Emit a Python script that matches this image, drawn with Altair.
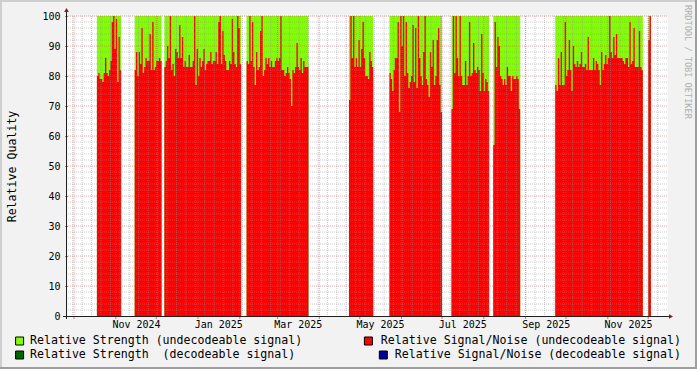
import altair as alt
import pandas as pd

# ---------------- data ----------------
SEGMENT_STARTS = ["2024-10-18", "2024-11-15", "2024-12-07", "2025-02-06", "2025-04-23",
                  "2025-05-23", "2025-07-08", "2025-08-08", "2025-09-23", "2025-12-01"]

SNR_SEG1 = [80, 81, 79, 79, 78, 81, 86, 81, 80, 82, 85, 98, 100, 89, 99, 78, 93, 82]
SNR_SEG2 = [82, 88, 80, 88, 84, 96, 81, 83, 86, 85, 85, 94, 82, 98, 82, 83, 85, 85, 86, 85]
SNR_SEG3 = [83, 85, 90, 86, 100, 82, 84, 80, 89, 88, 86, 97, 86, 93, 83, 85, 83, 83, 87, 83,
            83, 85, 100, 77, 89, 80, 86, 83, 85, 89, 82, 84, 85, 85, 88, 84, 85, 85, 88, 84,
            98, 100, 84, 95, 87, 85, 82, 82, 85, 84, 99, 88, 84, 83, 100, 96, 84]
SNR_SEG4 = [85, 84, 100, 85, 98, 83, 77, 88, 82, 83, 95, 100, 80, 82, 86, 84, 86, 83, 85, 83,
            83, 85, 86, 85, 86, 100, 82, 82, 80, 81, 83, 81, 79, 70, 82, 81, 83, 91, 83, 82,
            86, 81, 85, 83, 83, 83]
SNR_SEG5 = [72, 100, 86, 100, 83, 86, 83, 92, 83, 89, 98, 86, 80, 80, 79, 88, 85, 83]
SNR_SEG6 = [81, 79, 75, 82, 86, 86, 98, 68, 100, 90, 100, 80, 98, 81, 76, 78, 80, 97, 78, 96,
            76, 100, 86, 80, 77, 88, 100, 79, 77, 73, 88, 83, 92, 77, 80, 92, 96, 77, 68]
SNR_SEG7 = [69, 100, 81, 100, 86, 80, 100, 80, 77, 77, 85, 77, 80, 98, 80, 81, 91, 82, 81, 83,
            82, 75, 94, 81, 75, 79, 78, 75]
SNR_SEG8 = [57, 98, 83, 93, 90, 80, 79, 77, 79, 77, 83, 80, 80, 75, 80, 79, 79, 80, 79, 69]
SNR_SEG9 = [77, 75, 86, 77, 88, 77, 77, 98, 80, 82, 92, 82, 75, 90, 84, 83, 85, 83, 84, 88,
            83, 83, 84, 82, 93, 82, 82, 82, 86, 82, 85, 84, 82, 77, 88, 82, 84, 87, 84, 86,
            100, 88, 86, 93, 87, 94, 86, 86, 86, 86, 85, 84, 86, 86, 83, 98, 84, 85, 96, 83,
            83, 83, 95, 83, 82]
SNR_SEG10 = [92, 100]
SNR_SEGMENTS = [SNR_SEG1, SNR_SEG2, SNR_SEG3, SNR_SEG4, SNR_SEG5,
                SNR_SEG6, SNR_SEG7, SNR_SEG8, SNR_SEG9, SNR_SEG10]

STRENGTH_LEVEL = 100  # relative strength sits at 100 on every day with data

X_LABEL_DATES = ["2024-11-16", "2025-01-16", "2025-03-16", "2025-05-16",
                 "2025-07-16", "2025-09-16", "2025-11-16"]
Y_TICKS = [0, 10, 20, 30, 40, 50, 60, 70, 80, 90, 100]
Y_MINOR = [v for v in range(2, 100, 2) if v % 10 != 0]
Y_MAJOR = [10, 20, 30, 40, 50, 60, 70, 80, 90, 100]

LEGEND_LABELS = ["Relative Strength (undecodeable signal)",
                 "Relative Signal/Noise (undecodeable signal)",
                 "Relative Strength\u00a0 (decodeable signal)",
                 "Relative Signal/Noise (decodeable signal)"]
LEGEND_COLORS = ["#80FF00", "#FF0000", "#006600", "#000099"]
WATERMARK = "RRDTOOL / TOBI OETIKER"
Y_TITLE = "Relative Quality"

FONT = "DejaVu Sans Mono"

# ---------------- tables ----------------
def iso(ts):
    return ts.strftime("%Y-%m-%dT%H:%M:%SZ")

rows = []
for k, (start, vals) in enumerate(zip(SEGMENT_STARTS, SNR_SEGMENTS)):
    t0 = pd.Timestamp(start)
    ext = vals + [vals[-1]]  # closing point for the step area
    for i, v in enumerate(ext):
        rows.append({"date": iso(t0 + pd.Timedelta(days=i)), "snr": v,
                     "strength": STRENGTH_LEVEL, "seg": k})
df = pd.DataFrame(rows)

weeks = pd.DataFrame({"date": [iso(t) for t in pd.date_range("2024-09-30", "2025-12-14", freq="7D")]})
months = pd.DataFrame({"date": [iso(t) for t in pd.date_range("2024-10-01", "2025-12-01", freq="MS")]})
one = pd.DataFrame({"k": [0]})


def dt(s, h=0, m=0):
    t = pd.Timestamp(s)
    return alt.DateTime(year=t.year, month=t.month, date=t.day, hours=h, minutes=m, utc=True)

X_SCALE = alt.Scale(type="utc", domain=[dt("2024-09-25", 19, 26), dt("2025-12-14", 21, 50)])
Y_SCALE = alt.Scale(domain=[0, 100], nice=False, zero=True)

x_axis = alt.Axis(values=[dt(s) for s in X_LABEL_DATES], format="%b %Y", ticks=False,
                  domain=False, grid=False, labelPadding=3, labelFont=FONT, labelFontSize=10,
                  labelColor="#000000", labelFlush=False, labelOverlap=False, title=None)
y_axis = alt.Axis(values=Y_TICKS, domain=False, grid=False, tickSize=2, tickColor="#1f1f1f",
                  labelPadding=5, labelFont=FONT, labelFontSize=10, labelColor="#000000",
                  labelOverlap=False, labelFlush=False,
                  title=Y_TITLE, titleFont=FONT, titleFontSize=11.6, titleFontWeight="normal",
                  titleColor="#000000", titleAngle=270, titleX=-55, titleY=150,
                  titleAlign="center", titleBaseline="middle")


def X(field="date:T"):
    return alt.X(field, scale=X_SCALE, axis=x_axis)


def Y(field, **kw):
    return alt.Y(field, scale=Y_SCALE, axis=y_axis, **kw)


green = alt.Chart(df).mark_area(interpolate="step-after", color=LEGEND_COLORS[0], opacity=1).encode(
    x=X(), y=Y("strength:Q", stack=None), detail="seg:N")
red = alt.Chart(df).mark_area(interpolate="step-after", color=LEGEND_COLORS[1], opacity=1).encode(
    x=X(), y=Y("snr:Q", stack=None), detail="seg:N")

MINOR_C, MINOR_OP = "#8f8f8f", 0.45
MAJOR_C, MAJOR_OP = "#de4f4f", 0.5
minor_v = alt.Chart(weeks).mark_rule(color=MINOR_C, opacity=MINOR_OP, strokeDash=[1, 1], strokeWidth=1).encode(
    x=X())
minor_h = alt.Chart(pd.DataFrame({"v": Y_MINOR})).mark_rule(
    color=MINOR_C, opacity=MINOR_OP, strokeDash=[1, 1], strokeWidth=1).encode(y=Y("v:Q"))
major_h = alt.Chart(pd.DataFrame({"v": Y_MAJOR})).mark_rule(
    color=MAJOR_C, opacity=MAJOR_OP, strokeDash=[1, 1], strokeWidth=1).encode(y=Y("v:Q"))
major_v = alt.Chart(months).mark_rule(color=MAJOR_C, opacity=MAJOR_OP, strokeDash=[1, 1], strokeWidth=1).encode(
    x=X())
month_ticks = alt.Chart(months).mark_rule(color=MAJOR_C, opacity=0.8, strokeWidth=1).encode(
    x=X(), y=alt.value(300), y2=alt.value(303))

x_line = alt.Chart(one).mark_rule(color="#1f1f1f", strokeWidth=1).encode(
    x=alt.value(-4), x2=alt.value(602), y=alt.value(300.5))
y_line = alt.Chart(one).mark_rule(color="#1f1f1f", strokeWidth=1).encode(
    x=alt.value(-0.5), y=alt.value(303), y2=alt.value(-5))
arrow_r = alt.Chart(one).mark_point(shape="triangle-right", filled=True, color="#801f1f",
                                     size=22, opacity=1).encode(x=alt.value(604), y=alt.value(300.5))
arrow_u = alt.Chart(one).mark_point(shape="triangle-up", filled=True, color="#801f1f",
                                     size=22, opacity=1).encode(x=alt.value(-0.5), y=alt.value(-6))

# legend (rrdtool style, second column right-justified)
leg_layers = []
sq_pos = [(-47.4, 325), (301.4, 325), (-47.4, 339), (316.3, 339)]
txt_pos = [(-37, 325, "left"), (614, 325, "right"), (-37, 339, "left"), (614, 339, "right")]
for i in range(4):
    d = pd.DataFrame({"label": [LEGEND_LABELS[i]]})
    leg_layers.append(alt.Chart(d).mark_square(size=64, filled=True, fill=LEGEND_COLORS[i],
                                                stroke="#000000", strokeWidth=1, opacity=1).encode(
        x=alt.value(sq_pos[i][0]), y=alt.value(sq_pos[i][1])))
    leg_layers.append(alt.Chart(d).mark_text(font=FONT, fontSize=11.6, color="#000000",
                                              align=txt_pos[i][2], baseline="middle").encode(
        x=alt.value(txt_pos[i][0]), y=alt.value(txt_pos[i][1]), text="label:N"))

wm = alt.Chart(pd.DataFrame({"t": [WATERMARK]})).mark_text(
    font=FONT, fontSize=8.6, color="#b0b0b0", angle=90, align="left", baseline="middle").encode(
    x=alt.value(620.5), y=alt.value(-11), text="t:N")

# outer 3D-ish frame
frame = [
    alt.Chart(one).mark_rule(color="#cfcfcf", strokeWidth=2).encode(
        x=alt.value(-67), x2=alt.value(630), y=alt.value(-15)),
    alt.Chart(one).mark_rule(color="#cfcfcf", strokeWidth=2).encode(
        x=alt.value(-66), y=alt.value(-16), y2=alt.value(353)),
    alt.Chart(one).mark_rule(color="#9e9e9e", strokeWidth=2).encode(
        x=alt.value(-67), x2=alt.value(630), y=alt.value(352)),
    alt.Chart(one).mark_rule(color="#9e9e9e", strokeWidth=2).encode(
        x=alt.value(629), y=alt.value(-16), y2=alt.value(353)),
]

chart = alt.layer(
    green, red, minor_v, minor_h, major_v, major_h, month_ticks,
    x_line, y_line, arrow_r, arrow_u, wm, *leg_layers, *frame
).properties(
    width=600, height=300,
    autosize=alt.AutoSizeParams(type="none"),
    padding={"left": 67, "top": 16, "right": 30, "bottom": 53},
    background="#F2F2F2",
).configure_view(fill="#FFFFFF", stroke="transparent")

chart.save("out.html", embed_options={"renderer": "svg", "actions": False})
